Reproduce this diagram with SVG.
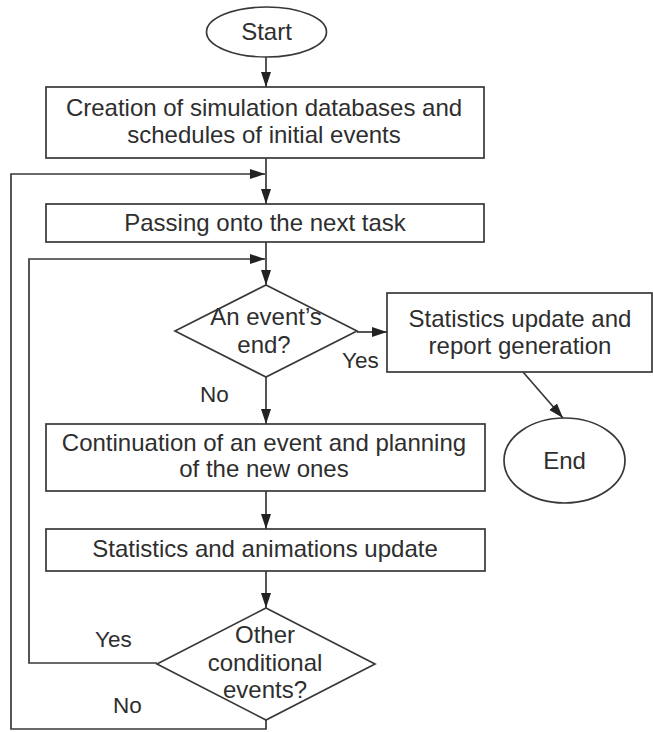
<svg xmlns="http://www.w3.org/2000/svg" width="653" height="732" viewBox="0 0 653 732">
  <style>
    .shape { fill: #ffffff; stroke: #383838; stroke-width: 1.7; }
    .conn { fill: none; stroke: #383838; stroke-width: 1.7; }
    .lbl { font-family: "Liberation Sans", Arial, sans-serif; font-size: 24px; fill: #2e2e2e; text-anchor: middle; }
    .side { font-family: "Liberation Sans", Arial, sans-serif; font-size: 22.5px; fill: #2e2e2e; }
  </style>
  <defs>
    <marker id="arrow" markerUnits="userSpaceOnUse" markerWidth="16" markerHeight="12" refX="15" refY="5" orient="auto">
      <path d="M0,0 L15,5 L0,10 Z" fill="#222222"/>
    </marker>
  </defs>
  <rect width="653" height="732" fill="#ffffff"/>

  <!-- connectors -->
  <g id="connectors">
    <line class="conn" x1="266" y1="57" x2="266" y2="87" marker-end="url(#arrow)"/>
    <line class="conn" x1="266" y1="158" x2="266" y2="204" marker-end="url(#arrow)"/>
    <line class="conn" x1="266" y1="242" x2="266" y2="285" marker-end="url(#arrow)"/>
    <line class="conn" x1="357" y1="332" x2="387" y2="332" marker-end="url(#arrow)"/>
    <line class="conn" x1="523" y1="372" x2="563" y2="418" marker-end="url(#arrow)"/>
    <line class="conn" x1="266" y1="377" x2="266" y2="424" marker-end="url(#arrow)"/>
    <line class="conn" x1="266" y1="491" x2="266" y2="529" marker-end="url(#arrow)"/>
    <line class="conn" x1="266" y1="571" x2="266" y2="608" marker-end="url(#arrow)"/>
    <!-- "Yes" loop back to the event check -->
    <polyline class="conn" points="157,663 29,663 29,259 265,259" marker-end="url(#arrow)"/>
    <!-- "No" loop back to the next task -->
    <polyline class="conn" points="266,720 266,729 11,729 11,174 265,174" marker-end="url(#arrow)"/>
    <text class="side" x="342" y="368">Yes</text>
    <text class="side" x="200" y="402">No</text>
    <text class="side" x="95" y="647">Yes</text>
    <text class="side" x="113" y="713">No</text>
  </g>

  <g id="start">
    <ellipse class="shape" cx="266.5" cy="32" rx="60" ry="25"/>
    <text class="lbl" x="266.5" y="40">Start</text>
  </g>

  <g id="create-databases">
    <rect class="shape" x="46" y="87" width="438" height="71"/>
    <text class="lbl" x="264" y="116">Creation of simulation databases and</text>
    <text class="lbl" x="264" y="143">schedules of initial events</text>
  </g>

  <g id="next-task">
    <rect class="shape" x="46" y="204" width="438" height="38"/>
    <text class="lbl" x="265" y="231">Passing onto the next task</text>
  </g>

  <g id="event-end">
    <polygon class="shape" points="266,285 357,331 266,377 175,331"/>
    <text class="lbl" x="266" y="325">An event’s</text>
    <text class="lbl" x="264" y="353">end?</text>
  </g>

  <g id="report">
    <rect class="shape" x="387" y="293" width="265" height="79"/>
    <text class="lbl" x="520" y="327">Statistics update and</text>
    <text class="lbl" x="520" y="354">report generation</text>
  </g>

  <g id="end">
    <ellipse class="shape" cx="564.5" cy="460.5" rx="60.5" ry="42.5"/>
    <text class="lbl" x="564.5" y="469">End</text>
  </g>

  <g id="continuation">
    <rect class="shape" x="46" y="424" width="439" height="67"/>
    <text class="lbl" x="264" y="451">Continuation of an event and planning</text>
    <text class="lbl" x="264" y="477">of the new ones</text>
  </g>

  <g id="stats-update">
    <rect class="shape" x="46" y="529" width="439" height="42"/>
    <text class="lbl" x="265" y="557">Statistics and animations update</text>
  </g>

  <g id="other-events">
    <polygon class="shape" points="266,608 375,664 266,720 157,664"/>
    <text class="lbl" x="265" y="643">Other</text>
    <text class="lbl" x="265" y="671">conditional</text>
    <text class="lbl" x="265" y="698">events?</text>
  </g>
</svg>
